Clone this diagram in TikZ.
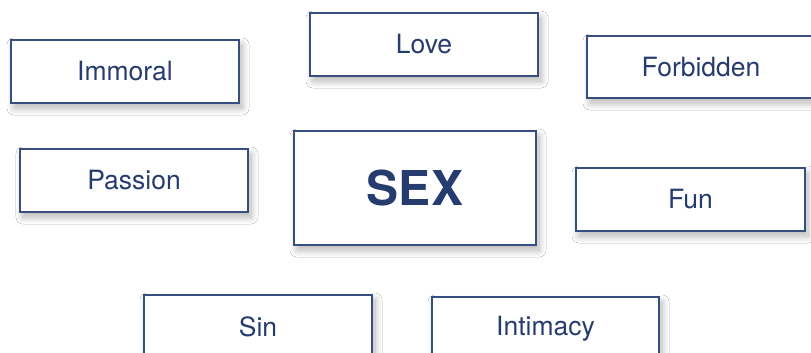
\documentclass[tikz,border=0pt]{standalone}
\usepackage{fontspec}
\setmainfont{TeX Gyre Heros}
\usetikzlibrary{shadows.blur}
\definecolor{wordB}{RGB}{38,60,110}
\definecolor{edgeB}{RGB}{55,78,128}

\begin{document}
\begin{tikzpicture}[x=1pt,y=-1pt,
  wordbox/.style={draw=edgeB,line width=1.2pt,fill=white,text=wordB,minimum width=228pt,minimum height=63pt,
    inner sep=0pt,font=\fontsize{26.5}{30}\selectfont,
    blur shadow={shadow xshift=3pt,shadow yshift=-5pt,shadow blur radius=7pt,shadow opacity=30,shadow blur steps=14}},
  bigbox/.style={wordbox,minimum width=242pt,minimum height=114pt,font=\fontsize{48}{52}\selectfont\bfseries}]
\useasboundingbox[fill=white] (0,0) rectangle (811,353);
\node[wordbox] (immoral) at (125,71.5) {Immoral};
\node[wordbox] (love) at (424,44.5) {Love};
\node[wordbox,minimum height=62pt] (forbidden) at (701,67) {Forbidden};
\node[wordbox] (passion) at (134,180.5) {Passion};
\node[bigbox] (sex) at (415,188) {SEX};
\node[wordbox,minimum width=229pt] (fun) at (690.5,199.5) {Fun};
\node[wordbox] (sin) at (258,326.5) {Sin};
\node[wordbox,minimum width=227pt] (intimacy) at (545.5,328.5) {Intimacy};
\end{tikzpicture}
\end{document}
